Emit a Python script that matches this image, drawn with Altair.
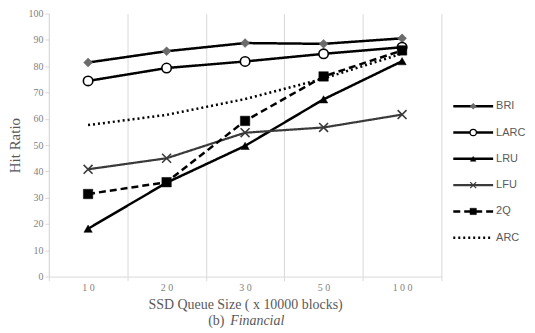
import altair as alt
import pandas as pd

sizes = ["10", "20", "30", "50", "100"]
series = ["BRI", "LARC", "LRU", "LFU", "2Q", "ARC"]
bri = [81.4, 85.7, 88.8, 88.5, 90.6]
larc = [74.4, 79.3, 81.8, 84.7, 87.2]
lru = [18.2, 35.7, 49.7, 67.4, 81.9]
lfu = [40.8, 45.0, 54.7, 56.7, 61.6]
q2 = [31.4, 35.9, 59.2, 76.1, 86.0]
arc = [57.6, 61.5, 67.5, 75.3, 84.8]
values = {"BRI": bri, "LARC": larc, "LRU": lru, "LFU": lfu, "2Q": q2, "ARC": arc}

rows = []
for s in series:
    for sz, v in zip(sizes, values[s]):
        rows.append({"series": s, "size": sz, "value": v})
df = pd.DataFrame(rows)

style = {
    "BRI": dict(color="#000000", width=2.5, dash=[1, 0], shape="diamond", fill="#6b6b6b", stroke="#6b6b6b", size=80),
    "LARC": dict(color="#000000", width=2.5, dash=[1, 0], shape="circle", fill="#ffffff", stroke="#000000", size=90),
    "LRU": dict(color="#000000", width=2.5, dash=[1, 0], shape="triangle-up", fill="#000000", stroke="#000000", size=70),
    "LFU": dict(color="#3a3a3a", width=2.2, dash=[1, 0], shape="cross", fill="#3a3a3a", stroke="#3a3a3a", size=80),
    "2Q": dict(color="#000000", width=2.5, dash=[7, 4], shape="square", fill="#000000", stroke="#000000", size=90),
    "ARC": dict(color="#000000", width=2.5, dash=[2, 3], shape=None, fill=None, stroke=None, size=0),
}

cross_path = "M-1,-1L1,1M-1,1L1,-1"

xenc = alt.X(
    "size:O",
    sort=sizes,
    bandPosition=0.5,
    scale=alt.Scale(type="band", paddingInner=0, paddingOuter=0),
    axis=alt.Axis(
        title="SSD Queue Size ( x 10000 blocks)",
        titleFont="Liberation Serif",
        titleFontSize=14,
        titleFontWeight="normal",
        titleColor="#595959",
        titlePadding=5,
        labelFont="Liberation Serif",
        labelFontSize=10,
        labelColor="#7f7f7f",
        labelAngle=0,
        labelPadding=2,
        labelExpr="replace(datum.label, regexp('(\\\\d)(?=\\\\d)', 'g'), '$1 ')",
        tickBand="extent",
        tickSize=4,
        tickColor="#d9d9d9",
        domainColor="#d9d9d9",
        grid=True,
        gridColor="#d9d9d9",
        gridWidth=1,
    ),
)
yenc = alt.Y(
    "value:Q",
    scale=alt.Scale(domain=[0, 100], nice=False),
    axis=alt.Axis(
        title="Hit Ratio",
        values=list(range(0, 101, 10)),
        titleFont="Liberation Serif",
        titleFontSize=15,
        titleFontWeight="normal",
        titleColor="#595959",
        titlePadding=5,
        labelFont="Liberation Serif",
        labelFontSize=10,
        labelColor="#7f7f7f",
        labelPadding=2,
        tickSize=4,
        tickColor="#d9d9d9",
        domainColor="#d9d9d9",
        grid=False,
    ),
)

main_layers = []
for s in series:
    st = style[s]
    d = df[df.series == s]
    main_layers.append(
        alt.Chart(d).mark_line(color=st["color"], strokeWidth=st["width"], strokeDash=st["dash"]).encode(x=xenc, y=yenc)
    )
for s in series:
    st = style[s]
    if st["shape"] is None:
        continue
    d = df[df.series == s]
    shape = cross_path if st["shape"] == "cross" else st["shape"]
    kw = dict(shape=shape, size=st["size"], opacity=1)
    if st["shape"] == "cross":
        kw.update(filled=False, stroke=st["stroke"], strokeWidth=1.6)
    elif st["fill"] == "#ffffff":
        kw.update(filled=True, fill="#ffffff", stroke=st["stroke"], strokeWidth=1.6)
    else:
        kw.update(filled=True, fill=st["fill"], stroke=st["stroke"], strokeWidth=0.5)
    main_layers.append(alt.Chart(d).mark_point(**kw).encode(x=xenc, y=yenc))

main = alt.layer(*main_layers)

leg_df = pd.DataFrame({"series": series})
ly = alt.Y("series:N", sort=series, scale=alt.Scale(type="point", domain=series, range=[93, 225], padding=0), axis=None)
leg_layers = []
for s in series:
    st = style[s]
    d = leg_df[leg_df.series == s]
    leg_layers.append(
        alt.Chart(d).mark_rule(color=st["color"], strokeWidth=st["width"], strokeDash=st["dash"]).encode(
            x=alt.value(406), x2=alt.value(446), y=ly
        )
    )
    if st["shape"] is not None:
        shape = cross_path if st["shape"] == "cross" else st["shape"]
        kw = dict(shape=shape, size=st["size"] * 0.45, opacity=1)
        if st["shape"] == "cross":
            kw.update(filled=False, stroke=st["stroke"], strokeWidth=1.2)
        elif st["fill"] == "#ffffff":
            kw.update(filled=True, fill="#ffffff", stroke=st["stroke"], strokeWidth=1.2)
        else:
            kw.update(filled=True, fill=st["fill"], stroke=st["stroke"], strokeWidth=0.5)
        leg_layers.append(alt.Chart(d).mark_point(**kw).encode(x=alt.value(426), y=ly))
leg_layers.append(
    alt.Chart(leg_df).mark_text(align="left", baseline="middle", font="Liberation Sans", fontSize=11, color="#595959").encode(
        x=alt.value(449), y=ly, text="series:N"
    )
)
legend = alt.layer(*leg_layers)

cap_df = pd.DataFrame({"part": ["(b)", "Financial"]})
cap1 = alt.Chart(cap_df[cap_df.part == "(b)"]).mark_text(
    align="left", baseline="middle", font="Liberation Serif", fontSize=14, color="#595959"
).encode(x=alt.value(160), y=alt.value(309), text="part:N")
cap2 = alt.Chart(cap_df[cap_df.part == "Financial"]).mark_text(
    align="left", baseline="middle", font="Liberation Serif", fontSize=14, fontStyle="italic", color="#595959"
).encode(x=alt.value(182), y=alt.value(309), text="part:N")

chart = (
    alt.layer(main, legend, cap1, cap2)
    .resolve_scale(y="independent")
    .properties(
        width=394,
        height=264,
        autosize=alt.AutoSizeParams(type="none"),
        padding={"left": 41, "top": 5, "right": 86, "bottom": 54},
        background="#ffffff",
    )
    .configure_view(stroke=None)
)

chart.save("out.html", embed_options={"renderer": "svg", "actions": False})
